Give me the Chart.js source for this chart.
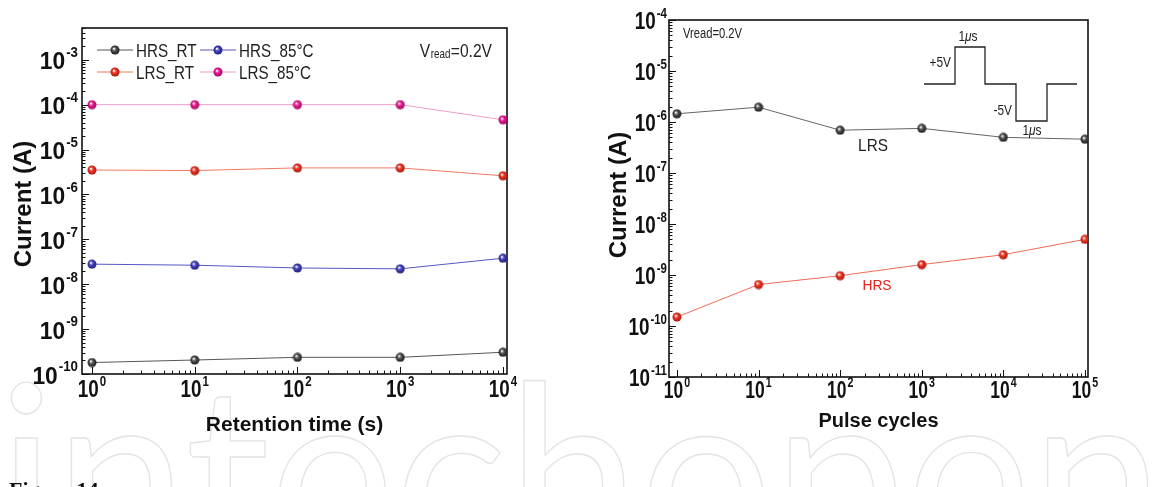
<!DOCTYPE html>
<html>
<head>
<meta charset="utf-8">
<script src="https://cdn.jsdelivr.net/npm/chart.js@4.4.0/dist/chart.umd.min.js"></script>
<style>
  body { margin: 0; background: #fff; width: 1159px; height: 487px; overflow: hidden; position: relative; }
  canvas { position: absolute; top: 0; }
</style>
</head>
<body>
<canvas id="bg" width="1159" height="487" style="left:0"></canvas>
<canvas id="retention" width="580" height="487" style="left:0"></canvas>
<canvas id="pulse" width="579" height="487" style="left:580px"></canvas>
<script>
// ---- data: retention (left panel) ----
const retentionTime = [1, 10, 100, 1000, 10000];
const hrsRT  = [1.8e-10, 2.05e-10, 2.35e-10, 2.35e-10, 3.05e-10];
const hrs85C = [2.8e-8, 2.65e-8, 2.3e-8, 2.2e-8, 3.8e-8];
const lrsRT  = [3.5e-6, 3.4e-6, 3.9e-6, 3.9e-6, 2.6e-6];
const lrs85C = [1.0e-4, 1.0e-4, 1.0e-4, 1.0e-4, 4.6e-5];
const retentionXTicks = [1, 10, 100, 1000, 10000];
const retentionYTicks = [1e-10, 1e-9, 1e-8, 1e-7, 1e-6, 1e-5, 1e-4, 1e-3];

// ---- data: endurance (right panel) ----
const pulseCycles = [1, 10, 100, 1000, 10000, 100000];
const lrsPulse = [1.45e-6, 1.95e-6, 6.9e-7, 7.5e-7, 5.0e-7, 4.6e-7];
const hrsPulse = [1.5e-10, 6.5e-10, 9.7e-10, 1.6e-9, 2.5e-9, 5.0e-9];
const pulseXTicks = [1, 10, 100, 1000, 10000, 100000];
const pulseYTicks = [1e-11, 1e-10, 1e-9, 1e-8, 1e-7, 1e-6, 1e-5, 1e-4];

const FONT = '"Liberation Sans", Arial, sans-serif';

// y is the vertical centre of the capitals
function txt(ctx, s, x, y, o) {
  const sx = o.sx || 1;
  ctx.save();
  ctx.font = (o.italic ? 'italic ' : '') + (o.bold ? 'bold ' : '') + o.size + 'px ' + (o.family || FONT);
  ctx.fillStyle = o.color || '#111';
  ctx.textBaseline = 'alphabetic';
  const w = ctx.measureText(s).width * sx;
  ctx.translate(x, y);
  if (o.rot) ctx.rotate(o.rot);
  const u = o.align === 'right' ? -w : o.align === 'center' ? -w / 2 : 0;
  ctx.translate(u, 0.358 * o.size);
  ctx.scale(sx, 1);
  ctx.fillText(s, 0, 0);
  ctx.restore();
  return w;
}

function measure(ctx, s, size, bold, sx, italic) {
  ctx.save();
  ctx.font = (italic ? 'italic ' : '') + (bold ? 'bold ' : '') + size + 'px ' + FONT;
  const w = ctx.measureText(s).width * (sx || 1);
  ctx.restore();
  return w;
}

function pow10(ctx, exp, x, y, size, sx, align) {
  const supSize = Math.round(size * 0.6);
  const sup = String(exp);
  const wb = measure(ctx, '10', size, true, sx);
  const ws = measure(ctx, sup, supSize, true, sx);
  const total = wb + 1 + ws;
  const x0 = align === 'right' ? x - total : x - total / 2;
  txt(ctx, '10', x0, y, { size, bold: true, sx });
  txt(ctx, sup, x0 + wb + 1, y - size * 0.36, { size: supSize, bold: true, sx });
}

function makeBall(light, dark) {
  const c = document.createElement('canvas');
  c.width = 10; c.height = 10;
  const g = c.getContext('2d');
  const grad = g.createRadialGradient(3.8, 3.6, 0.3, 5, 5, 5);
  grad.addColorStop(0, '#ffffff');
  grad.addColorStop(0.35, light);
  grad.addColorStop(1, dark);
  g.fillStyle = grad;
  g.beginPath(); g.arc(5, 5, 4.5, 0, Math.PI * 2); g.fill();
  return c;
}

const ballBlack   = makeBall('#555555', '#111111');
const ballBlue    = makeBall('#4545c0', '#1c1c70');
const ballRed     = makeBall('#f03a28', '#a01008');
const ballMagenta = makeBall('#ec2096', '#9a0058');

function series(xs, ys) { return xs.map((x, i) => ({ x: x, y: ys[i] })); }

// ---- per panel decoration ----
const panels = {
  retention: {
    xTicks: retentionXTicks, yTicks: retentionYTicks,
    yLabelSize: 24, yLabelSx: 0.95, yLabelGap: 4,
    xLabelSize: 23, xLabelSx: 0.82, xLabelDy: 15,
    xTitle: 'Retention time (s)', xTitleSize: 21, xTitleY: 423,
    yTitle: 'Current (A)', yTitleX: 22, yTitleY: 204,
    extras(chart) {
      const ctx = chart.ctx;
      // legend, 2 x 2 inside the plot
      chart.data.datasets.forEach((ds, i) => {
        const x0 = [97, 200][i % 2];
        const yy = [50, 72][Math.floor(i / 2)];
        ctx.save();
        ctx.strokeStyle = ds.borderColor; ctx.lineWidth = 1;
        ctx.beginPath(); ctx.moveTo(x0, yy); ctx.lineTo(x0 + 36, yy); ctx.stroke();
        ctx.drawImage(ds.pointStyle, x0 + 18 - 5, yy - 5);
        ctx.restore();
        txt(ctx, ds.label, x0 + 39, yy, { size: 19, sx: 0.8, color: '#222' });
      });
      // V_read = 0.2V
      const wV = measure(ctx, 'V', 19, false, 0.82);
      const wR = measure(ctx, 'read', 12, false, 0.82);
      const wE = measure(ctx, '=0.2V', 19, false, 0.82);
      let x = 492 - (wV + wR + wE + 1);
      txt(ctx, 'V', x, 50, { size: 19, sx: 0.82, color: '#222' }); x += wV + 0.5;
      txt(ctx, 'read', x, 53.5, { size: 12, sx: 0.82, color: '#222' }); x += wR + 0.5;
      txt(ctx, '=0.2V', x, 50, { size: 19, sx: 0.82, color: '#222' });
    }
  },
  pulse: {
    xTicks: pulseXTicks, yTicks: pulseYTicks,
    yLabelSize: 23, yLabelSx: 0.82, yLabelGap: 2,
    xLabelSize: 23, xLabelSx: 0.76, xLabelDy: 13,
    xTitle: 'Pulse cycles', xTitleSize: 20, xTitleY: 420,
    yTitle: 'Current (A)', yTitleX: 37, yTitleY: 195,
    extras(chart) {
      const ctx = chart.ctx;
      const a = chart.chartArea;
      txt(ctx, 'Vread=0.2V', a.left + 14, a.top + 13, { size: 14, sx: 0.8, color: '#222' });
      // pulse scheme inset
      const px = [255, 286, 316, 347, 378, 408].map(v => a.left + v);
      const mid = a.top + 64, hi = a.top + 27, lo = a.top + 101;
      ctx.save();
      ctx.strokeStyle = '#222'; ctx.lineWidth = 1.3;
      ctx.beginPath();
      ctx.moveTo(px[0], mid); ctx.lineTo(px[1], mid); ctx.lineTo(px[1], hi); ctx.lineTo(px[2], hi);
      ctx.lineTo(px[2], mid); ctx.lineTo(px[3], mid); ctx.lineTo(px[3], lo); ctx.lineTo(px[4], lo);
      ctx.lineTo(px[4], mid); ctx.lineTo(px[5], mid);
      ctx.stroke();
      ctx.restore();
      const us = (cx, cy) => {
        const w1 = measure(ctx, '1', 14, false, 0.85);
        const w2 = measure(ctx, '\u03bc', 14, false, 0.85, true);
        const w3 = measure(ctx, 's', 14, false, 0.85);
        let x = cx - (w1 + w2 + w3) / 2;
        txt(ctx, '1', x, cy, { size: 14, sx: 0.85, color: '#222' }); x += w1;
        txt(ctx, '\u03bc', x, cy, { size: 14, sx: 0.85, color: '#222', italic: true }); x += w2;
        txt(ctx, 's', x, cy, { size: 14, sx: 0.85, color: '#222' });
      };
      us(a.left + 299, a.top + 16);
      us(a.left + 363, a.top + 110);
      txt(ctx, '+5V', a.left + 282, a.top + 42, { size: 14, sx: 0.85, color: '#222', align: 'right' });
      txt(ctx, '-5V', a.left + 343, a.top + 90, { size: 14, sx: 0.85, color: '#222', align: 'right' });
      txt(ctx, 'LRS', a.left + 204, a.top + 125, { size: 17, sx: 0.9, color: '#222', align: 'center' });
      txt(ctx, 'HRS', a.left + 208, a.top + 265, { size: 15, sx: 0.92, color: '#e8201a', align: 'center' });
    }
  }
};

const panelPlugin = {
  id: 'panel',
  beforeDatasetsDraw(chart) {
    const p = panels[chart.canvas.id];
    const { ctx, chartArea: a, scales: { x, y } } = chart;
    ctx.save();
    ctx.strokeStyle = '#111';
    ctx.lineWidth = 1.6;
    ctx.strokeRect(a.left, a.top, a.right - a.left, a.bottom - a.top);
    ctx.lineWidth = 1;
    p.yTicks.forEach(v => {
      for (let k = 1; k <= 9; k++) {
        const val = v * k;
        if (val < y.min * 0.999 || val > y.max * 1.001) continue;
        const py = Math.round(y.getPixelForValue(val)) + 0.5;
        ctx.beginPath(); ctx.moveTo(a.left, py); ctx.lineTo(a.left + (k === 1 ? 7 : 3.5), py); ctx.stroke();
      }
    });
    p.xTicks.forEach(v => {
      for (let k = 1; k <= 9; k++) {
        const val = v * k;
        if (val < x.min * 0.999 || val > x.max * 1.001) continue;
        const pxx = Math.round(x.getPixelForValue(val)) + 0.5;
        ctx.beginPath(); ctx.moveTo(pxx, a.bottom); ctx.lineTo(pxx, a.bottom - (k === 1 ? 7 : 3.5)); ctx.stroke();
      }
    });
    ctx.restore();
  },
  afterDraw(chart) {
    const p = panels[chart.canvas.id];
    const { ctx, chartArea: a, scales: { x, y } } = chart;
    p.yTicks.forEach(v => {
      pow10(ctx, Math.round(Math.log10(v)), a.left - p.yLabelGap, y.getPixelForValue(v) + 1, p.yLabelSize, p.yLabelSx, 'right');
    });
    p.xTicks.forEach(v => {
      pow10(ctx, Math.round(Math.log10(v)), x.getPixelForValue(v), a.bottom + p.xLabelDy, p.xLabelSize, p.xLabelSx, 'center');
    });
    txt(ctx, p.xTitle, (a.left + a.right) / 2, p.xTitleY, { size: p.xTitleSize, bold: true, align: 'center' });
    txt(ctx, p.yTitle, p.yTitleX, p.yTitleY, { size: 24, bold: true, align: 'center', rot: -Math.PI / 2 });
    p.extras(chart);
  }
};

function makePanel(id, datasets, xMin, xMax, yMin, yMax, yAxisWidth, xAxisHeight, padding) {
  return new Chart(document.getElementById(id), {
    type: 'line',
    data: { datasets: datasets },
    options: {
      responsive: false,
      animation: false,
      devicePixelRatio: 1,
      layout: { padding: padding },
      elements: { line: { tension: 0, borderWidth: 1 }, point: { radius: 4.5 } },
      scales: {
        x: {
          type: 'logarithmic', min: xMin, max: xMax,
          ticks: { display: false }, grid: { display: false }, border: { display: false },
          afterFit: s => { s.height = xAxisHeight; }
        },
        y: {
          type: 'logarithmic', min: yMin, max: yMax,
          ticks: { display: false }, grid: { display: false }, border: { display: false },
          afterFit: s => { s.width = yAxisWidth; }
        }
      },
      plugins: { legend: { display: false }, tooltip: { enabled: false } }
    },
    plugins: [panelPlugin]
  });
}

// watermark + caption on the page background
(function () {
  const ctx = document.getElementById('bg').getContext('2d');
  ctx.save();
  ctx.font = '250px Lato, "Open Sans", sans-serif';
  const w = ctx.measureText('intechopen').width;
  ctx.translate(-2, 565);
  ctx.scale(1165 / w, 1);
  ctx.strokeStyle = '#e4e4e4';
  ctx.lineWidth = 1.4;
  ctx.strokeText('intechopen', 0, 0);
  ctx.restore();
  ctx.font = 'bold 22px "Liberation Serif", "Times New Roman", serif';
  ctx.fillStyle = '#111';
  ctx.textBaseline = 'alphabetic';
  ctx.fillText('Figure 14', 9, 497);
})();

makePanel('retention', [
  { label: 'HRS_RT',   data: series(retentionTime, hrsRT),  borderColor: '#555555', pointStyle: ballBlack },
  { label: 'HRS_85\u00b0C', data: series(retentionTime, hrs85C), borderColor: '#5656c4', pointStyle: ballBlue },
  { label: 'LRS_RT',   data: series(retentionTime, lrsRT),  borderColor: '#f27a60', pointStyle: ballRed },
  { label: 'LRS_85\u00b0C', data: series(retentionTime, lrs85C), borderColor: '#f09cc8', pointStyle: ballMagenta }
], 0.8, 10940, 1e-10, 5.1e-3, 82, 113, { left: 0, top: 28, right: 73, bottom: 0 });

makePanel('pulse', [
  { label: 'LRS', data: series(pulseCycles, lrsPulse), borderColor: '#666666', pointStyle: ballBlack },
  { label: 'HRS', data: series(pulseCycles, hrsPulse), borderColor: '#f26a55', pointStyle: ballRed }
], 0.8, 108900, 1e-11, 1e-4, 89, 110, { left: 0, top: 20, right: 71, bottom: 0 });
</script>
</body>
</html>
